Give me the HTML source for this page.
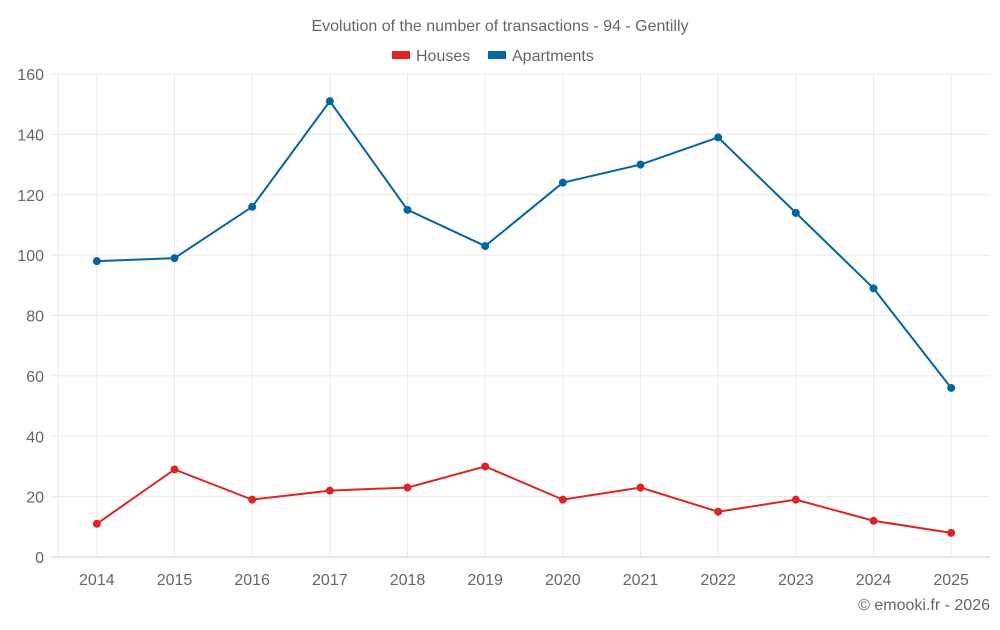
<!DOCTYPE html>
<html><head><meta charset="utf-8"><style>
body{margin:0;background:#fff;font-family:"Liberation Sans",sans-serif;}
svg text{font-family:"Liberation Sans",sans-serif;fill:#666;}
</style></head><body>
<svg id="chart" width="1000" height="625">
<text x="500" y="31" text-anchor="middle" font-size="16">Evolution of the number of transactions - 94 - Gentilly</text>
<g>
<g><rect x="392" y="51" width="18" height="8" fill="#dd2424"/><text x="416" y="61" font-size="16">Houses</text></g>
<g><rect x="488" y="51" width="18" height="8" fill="#0465a0"/><text x="512" y="61" font-size="16">Apartments</text></g>
</g>
<g id="grid"></g><g id="axes"></g><g id="series"></g>
<text x="990" y="610" text-anchor="end" font-size="16">© emooki.fr - 2026</text>
</svg>
<script>
const categories=["2014","2015","2016","2017","2018","2019","2020","2021","2022","2023","2024","2025"];
const houses=[11,29,19,22,23,30,19,23,15,19,12,8];
const apartments=[98,99,116,151,115,103,124,130,139,114,89,56];
const yTicks=[0,20,40,60,80,100,120,140,160];
const NS="http://www.w3.org/2000/svg";
const L=58,R=990,T=74,B=557,yMax=160;
const band=(R-L)/categories.length;
function x(i){return L+band*(i+0.5);}
function y(v){return B-(v/yMax)*(B-T);}
function mk(tag,attrs,parent){const e=document.createElementNS(NS,tag);for(const k in attrs)e.setAttribute(k,attrs[k]);parent.appendChild(e);return e;}
const grid=document.getElementById('grid'),axes=document.getElementById('axes'),ser=document.getElementById('series');
const ax=mk('line',{x1:L,x2:L,y1:T,y2:B,stroke:'#ebebeb'},grid);


yTicks.forEach(t=>{
 const l=mk('line',{x1:51,x2:R,y1:y(t),y2:y(t),stroke:t===0?'#ccc':'#ebebeb'},grid);
 
 
 const tx=mk('text',{x:44,y:y(t)+6,'text-anchor':'end','font-size':16},axes);
 tx.textContent=t;
 
 
});
categories.forEach((c,i)=>{
 const l=mk('line',{x1:x(i),x2:x(i),y1:T,y2:B,stroke:'#ebebeb'},grid);
 
 
 const tx=mk('text',{x:x(i),y:585,'text-anchor':'middle','font-size':16},axes);
 tx.textContent=c;
 
 
});
function draw(vals,color,name){
 const p=mk('polyline',{points:vals.map((v,i)=>x(i)+','+y(v)).join(' '),fill:'none',stroke:color,'stroke-width':2},ser);
 
 
 vals.forEach((v,i)=>{
  const c=mk('circle',{cx:x(i),cy:y(v),r:4,fill:color},ser);
  
  
 });
}
draw(houses,'#dd2424','houses');
draw(apartments,'#0465a0','apartments');
</script>
</body></html>
